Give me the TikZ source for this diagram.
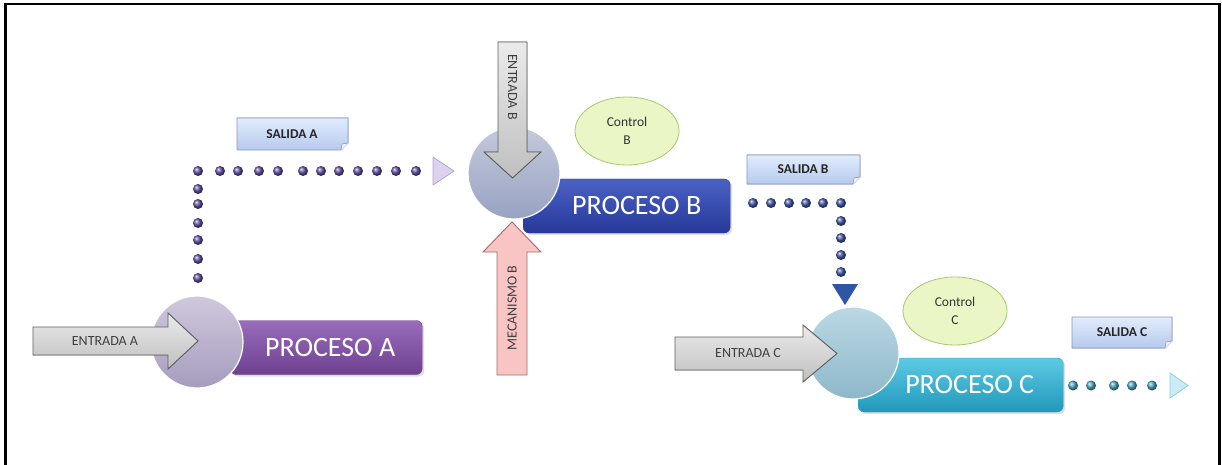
\documentclass[tikz,border=0pt]{standalone}
\usepackage{fontspec}
\setmainfont{Carlito}
\usetikzlibrary{shapes.geometric,shadows}
\definecolor{barAtop}{HTML}{9A6CBC}\definecolor{barAbot}{HTML}{6E4090}
\definecolor{barBtop}{HTML}{4A62C4}\definecolor{barBbot}{HTML}{26389A}
\definecolor{barCtop}{HTML}{5CCAE4}\definecolor{barCbot}{HTML}{2298BA}
\definecolor{cirAtop}{HTML}{CFC9DD}\definecolor{cirAbot}{HTML}{A69CBE}
\definecolor{cirBtop}{HTML}{C4CADC}\definecolor{cirBbot}{HTML}{98A2C2}
\definecolor{cirCtop}{HTML}{BCD8E4}\definecolor{cirCbot}{HTML}{8CB8CA}
\definecolor{grayarr}{HTML}{5E5E5E}
\definecolor{pinkfill}{HTML}{F8C4C4}\definecolor{pinkdraw}{HTML}{A86A6A}
\definecolor{boxtop}{HTML}{E2ECFC}\definecolor{boxbot}{HTML}{B6CAEE}\definecolor{boxdraw}{HTML}{8296C8}
\definecolor{ctrlfill}{HTML}{EAF6C6}\definecolor{ctrldraw}{HTML}{A6C872}
\definecolor{dotA}{HTML}{6452A6}\definecolor{dotB}{HTML}{4458AA}\definecolor{dotC}{HTML}{4AA8C4}
\definecolor{triA}{HTML}{DCD2F0}\definecolor{triAd}{HTML}{B4A4D8}
\definecolor{triB}{HTML}{2F56A6}
\definecolor{triC}{HTML}{CDEBF5}\definecolor{triCd}{HTML}{8ECDE3}
\tikzset{
  procbar/.style={rectangle, rounded corners=6, minimum height=54, text=white,
    font=\fontsize{28}{28}\selectfont, inner sep=0pt,
    drop shadow={opacity=0.25, shadow xshift=2pt, shadow yshift=-2pt}},
  proccirc/.style={circle, minimum size=92, inner sep=0pt, draw=white, line width=1.2},
  grayarrow/.style={draw=grayarr, line width=0.9, top color=white!92!black, bottom color=white!75!black},
  pinkarrow/.style={draw=pinkdraw, line width=0.9, fill=pinkfill},
  arrtext/.style={font=\fontsize{14}{14}\selectfont, text=black!75, inner sep=0pt},
  outbox/.style={draw=boxdraw, line width=0.8, top color=boxtop, bottom color=boxbot},
  outtext/.style={font=\bfseries\fontsize{13.5}{13.5}\selectfont, text=black!85, inner sep=0pt},
  ctrl/.style={ellipse, draw=ctrldraw, line width=0.8, fill=ctrlfill, minimum width=104, minimum height=68,
    inner sep=0pt, align=center, font=\fontsize{13.5}{18}\selectfont, text=black!80},
  dotball/.style={ball color=#1},
}
\begin{document}
\begin{tikzpicture}[x=1pt,y=-1pt]
\useasboundingbox (0,0) rectangle (1222,465);
\draw[line width=2.2] (5.5,465) -- (5.5,4) -- (1219.5,4) -- (1219.5,465);

% ---------- process bars ----------
\node[procbar, top color=barAtop, bottom color=barAbot, draw=barAbot, minimum width=192, anchor=west] (barA) at (230,347.5) {\hspace*{8pt}PROCESO A};
\node[procbar, top color=barBtop, bottom color=barBbot, draw=barBbot, minimum width=207, anchor=west] (barB) at (523,206) {\hspace*{20pt}PROCESO B};
\node[procbar, top color=barCtop, bottom color=barCbot, draw=barCbot, minimum width=205, anchor=west] (barC) at (858,385) {\hspace*{18pt}PROCESO C};

% ---------- circles ----------
\node[proccirc, top color=cirAtop, bottom color=cirAbot] (cA) at (197,342) {};
\node[proccirc, top color=cirBtop, bottom color=cirBbot] (cB) at (514,173) {};
\node[proccirc, top color=cirCtop, bottom color=cirCbot] (cC) at (853,353) {};

% ---------- input / mechanism arrows ----------
\filldraw[grayarrow] (33,327) -- (168,327) -- (168,313) -- (198,341) -- (168,369) -- (168,355) -- (33,355) -- cycle;
\node[arrtext] (eA) at (105,341) {ENTRADA A};

\filldraw[grayarrow] (498,42) -- (527,42) -- (527,152) -- (541,152) -- (512.5,178) -- (484,152) -- (498,152) -- cycle;
\node[arrtext, rotate=-90] (eB) at (512.5,87) {ENTRADA B};

\filldraw[pinkarrow] (497,375) -- (527,375) -- (527,252) -- (541,252) -- (512,222) -- (483,252) -- (497,252) -- cycle;
\node[arrtext, rotate=90] (mB) at (512,308) {MECANISMO B};

\filldraw[grayarrow] (675,337) -- (803,337) -- (803,325) -- (837,353.5) -- (803,382) -- (803,370) -- (675,370) -- cycle;
\node[arrtext] (eC) at (748,353.5) {ENTRADA C};

% ---------- output boxes ----------
\filldraw[outbox] (237,118) -- (348,118) -- (348,143) -- (341,150) -- (237,150) -- cycle;
\draw[boxdraw, line width=0.6, fill=white!80!boxbot] (348,143) -- (342,144) -- (341,150);
\node[outtext] (sA) at (292,134) {SALIDA A};

\filldraw[outbox] (747,155) -- (860,155) -- (860,177) -- (853,184) -- (747,184) -- cycle;
\draw[boxdraw, line width=0.6, fill=white!80!boxbot] (860,177) -- (854,178) -- (853,184);
\node[outtext] (sB) at (803,169) {SALIDA B};

\filldraw[outbox] (1072,317) -- (1172,317) -- (1172,341) -- (1165,348) -- (1072,348) -- cycle;
\draw[boxdraw, line width=0.6, fill=white!80!boxbot] (1172,341) -- (1166,342) -- (1165,348);
\node[outtext] (sC) at (1122,332) {SALIDA C};

% ---------- controls ----------
\node[ctrl] (ctB) at (627,131) {Control\\B};
\node[ctrl] (ctC) at (955,311) {Control\\C};

% ---------- dotted connectors ----------
\foreach \y in {278,259,240,223,204,189,171} \shade[dotball=dotA] (198,\y) circle (5);
\foreach \x in {220,238,259,278,303,321,339,358,377,396,416} \shade[dotball=dotA] (\x,171) circle (5);
\filldraw[fill=triA, draw=triAd, line width=0.8] (433,157) -- (454,171) -- (433,185) -- cycle;

\foreach \x in {753,771,789,806,823,841} \shade[dotball=dotB] (\x,203) circle (5);
\foreach \y in {221,238,255,272} \shade[dotball=dotB] (841,\y) circle (5);
\fill[triB] (832,284) -- (858,284) -- (845,305) -- cycle;

\foreach \x in {1073,1091,1114,1132,1152} \shade[dotball=dotC] (\x,385.5) circle (5);
\filldraw[fill=triC, draw=triCd, line width=0.8] (1170,373) -- (1188,385.5) -- (1170,398) -- cycle;
\end{tikzpicture}
\end{document}
